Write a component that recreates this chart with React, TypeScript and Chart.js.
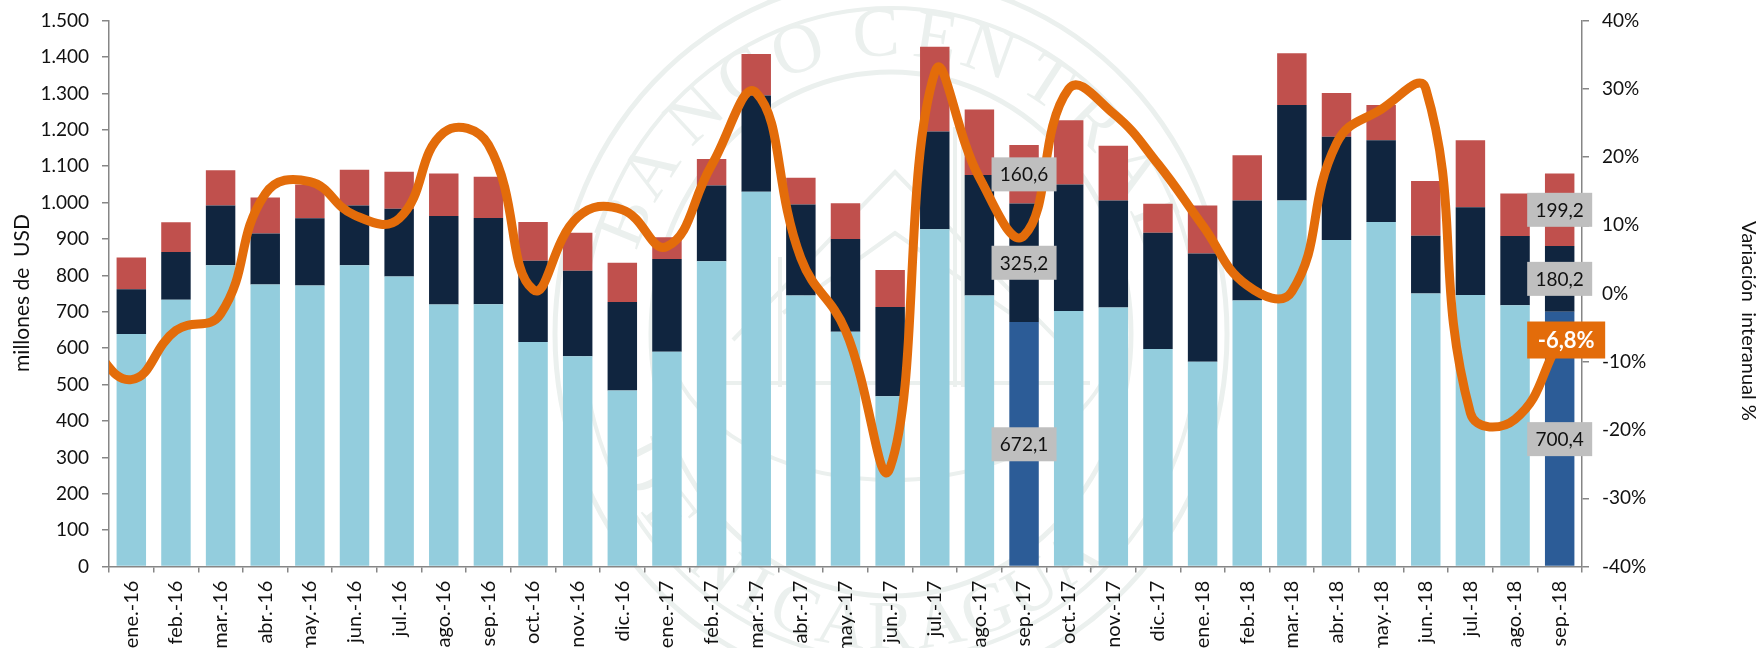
import React, { useEffect, useRef } from "react";
import { Chart, registerables } from "chart.js";

Chart.register(...registerables);

// "dic.-15" lies off the left edge of the axis: only the curve enters from there.
const monthBefore = "dic.-15";
const months = ["ene.-16","feb.-16","mar.-16","abr.-16","may.-16","jun.-16","jul.-16","ago.-16","sep.-16","oct.-16","nov.-16","dic.-16","ene.-17","feb.-17","mar.-17","abr.-17","may.-17","jun.-17","jul.-17","ago.-17","sep.-17","oct.-17","nov.-17","dic.-17","ene.-18","feb.-18","mar.-18","abr.-18","may.-18","jun.-18","jul.-18","ago.-18","sep.-18"];
const lightValues = [639,733,828,775,772,828,797,720,721,617,578,484,590,839,1030,745,645,468,927,745,672.1,702,712,598,563,731,1006,897,947,750,746,718,700.4];
const darkValues = [123,131,164,140,185,164,186,243,237,223,235,243,255,208,264,250,255,245,268,331,325.2,348,294,319,297,275,262,284,224,159,241,190,180.2];
const redValues = [87,82,97,99,93,98,102,117,113,107,104,108,60,73,114,73,98,102,233,180,160.6,176,150,80,132,124,142,120,97,150,184,117,199.2];
const variationBefore = -7;
const variation = [-12.6,-5.4,-3,14.6,16.4,11.5,11,23.6,21.8,0.6,11.2,12.3,6.9,18.8,29.4,5.2,-5.4,-25.5,32.4,17,8.5,30,26.4,19,10,1.2,0.3,22,27,30,-17.5,-18.4,-6.8];
const highlighted = [20, 32];

const FONT = "Lato";
const INK = "#111111";
const AXIS = "#868686";
const LIGHT = "#93CDDD";
const DARK = "#10253F";
const RED = "#C0504D";
const BLUE = "#2C5C97";
const ORANGE = "#E36C0A";
const BOX = "#BFBFBF";
const SEAL = "#EBF0EE";

const fmtThousand = (v: number) => (v >= 1000 ? `${Math.floor(v / 1000)}.${String(v % 1000).padStart(3, "0")}` : String(v));
const fmtComma = (v: number) => v.toFixed(1).replace(".", ",");

const sealPlugin = {
  id: "seal",
  beforeDraw(chart: any) {
    const c = chart.ctx;
    const cx = 891, cy = 334;
    c.save();
    c.strokeStyle = SEAL;
    c.fillStyle = SEAL;
    const rings: number[][] = [[336, 356, 5], [308, 326, 4], [240, 262, 5]];
    rings.forEach(([rx, ry, w]) => {
      c.lineWidth = w;
      c.beginPath();
      c.ellipse(cx, cy, rx, ry, 0, 0, Math.PI * 2);
      c.stroke();
    });
    c.font = "70px 'Liberation Serif'";
    c.textAlign = "center";
    c.textBaseline = "middle";
    const put = (ch: string, deg: number, bottom: boolean) => {
      const t = (deg * Math.PI) / 180;
      const x = cx + 284 * Math.sin(t);
      const y = cy - 297 * Math.cos(t);
      c.save();
      c.translate(x, y);
      c.rotate(bottom ? t - Math.PI : t);
      c.fillText(ch, 0, 0);
      c.restore();
    };
    [["B",-68],["A",-57],["N",-43],["C",-31],["O",-19],["C",-3],["E",9],["N",20],["T",33],["R",45],["A",57],["L",68]].forEach(([s, d]) => put(s as string, d as number, false));
    [["D",243],["E",232],["N",218],["I",209],["C",200],["A",190],["R",180],["A",170],["G",160],["U",150],["A",140]].forEach(([s, d]) => put(s as string, d as number, true));
    c.lineWidth = 4;
    const seg = (p: number[][]) => {
      c.beginPath();
      p.forEach(([x, y], i) => (i ? c.lineTo(x, y) : c.moveTo(x, y)));
      c.stroke();
    };
    seg([[733, 340], [895, 172], [1058, 340]]);
    seg([[783, 313], [895, 233], [1010, 313]]);
    seg([[700, 383], [1090, 383]]);
    seg([[780, 257], [780, 387]]);
    seg([[790, 250], [790, 387]]);
    seg([[955, 127], [955, 387]]);
    seg([[963, 127], [963, 387]]);
    c.beginPath();
    c.ellipse(cx, 330, 225, 150, 0, 0.15, Math.PI - 0.15);
    c.stroke();
    c.restore();
  },
};

const labelPlugin = {
  id: "valueLabels",
  afterDraw(chart: any) {
    const c = chart.ctx;
    const xs = chart.scales.x;
    const ys = chart.scales.y;
    const y1 = chart.scales.y1;
    c.save();
    c.textAlign = "center";
    c.textBaseline = "middle";
    highlighted.forEach((i) => {
      const x = xs.getPixelForValue(i + 1);
      const segs = [
        [lightValues[i], lightValues[i] / 2],
        [darkValues[i], lightValues[i] + darkValues[i] / 2],
        [redValues[i], lightValues[i] + darkValues[i] + redValues[i] / 2],
      ];
      segs.forEach(([v, mid]) => {
        const y = ys.getPixelForValue(mid);
        c.fillStyle = BOX;
        c.fillRect(x - 32.5, y - 17, 65, 34);
        c.fillStyle = INK;
        c.font = `19px ${FONT}`;
        c.fillText(fmtComma(v), x, y + 1);
      });
    });
    const last = variation.length - 1;
    const lx = xs.getPixelForValue(last + 1);
    const ly = y1.getPixelForValue(variation[last]);
    c.fillStyle = ORANGE;
    c.fillRect(lx - 32.5, ly - 18.5, 78, 37);
    c.fillStyle = "#FFFFFF";
    c.font = `bold 22px ${FONT}`;
    c.fillText(`${fmtComma(variation[last])}%`, lx + 6.5, ly + 1);

    c.fillStyle = INK;
    c.font = `21px ${FONT}`;
    c.save();
    c.translate(22, 293);
    c.rotate(-Math.PI / 2);
    c.fillText("millones de  USD", 0, 0);
    c.restore();
    c.font = `20px ${FONT}`;
    c.save();
    c.translate(1748, 321);
    c.rotate(Math.PI / 2);
    c.fillText("Variación  interanual %", 0, 0);
    c.restore();
    c.restore();
  },
};

const flushY = (width: number) => (s: any) => {
  s.width = width;
  s.paddingTop = 0;
  s.paddingBottom = 0;
};

export default function App() {
  const ref = useRef<HTMLCanvasElement | null>(null);
  useEffect(() => {
    document.body.style.margin = "0";
    const chart = new Chart(ref.current as HTMLCanvasElement, {
      type: "bar",
      data: {
        labels: [monthBefore, ...months],
        datasets: [
          {
            type: "line",
            label: "Variación interanual",
            data: [variationBefore, ...variation],
            yAxisID: "y1",
            borderColor: ORANGE,
            borderWidth: 9,
            pointRadius: 0,
            tension: 0.45,
            fill: false,
            borderCapStyle: "round",
            order: 0,
          } as any,
          { label: "a", data: [null, ...lightValues], backgroundColor: [null, ...lightValues].map((_, i) => (highlighted.includes(i - 1) ? BLUE : LIGHT)), stack: "s", order: 1, barPercentage: 0.66, categoryPercentage: 1 },
          { label: "b", data: [null, ...darkValues], backgroundColor: DARK, stack: "s", order: 2, barPercentage: 0.66, categoryPercentage: 1 },
          { label: "c", data: [null, ...redValues], backgroundColor: RED, stack: "s", order: 3, barPercentage: 0.66, categoryPercentage: 1 },
        ],
      },
      options: {
        responsive: false,
        animation: false,
        events: [],
        layout: { padding: { top: 20.6, left: 0, right: 0, bottom: 0 } },
        plugins: { legend: { display: false }, tooltip: { enabled: false }, title: { display: false } },
        scales: {
          x: {
            stacked: true,
            offset: true,
            min: months[0],
            afterFit: (s: any) => { s.height = 81.4; },
            grid: { drawOnChartArea: false, drawTicks: true, tickLength: 6, color: AXIS, lineWidth: 1.5, offset: true },
            border: { color: AXIS, width: 1.5 },
            ticks: { autoSkip: false, minRotation: 90, maxRotation: 90, padding: 8, color: INK, font: { family: FONT, size: 20 } },
          },
          y: {
            stacked: true,
            min: 0,
            max: 1500,
            position: "left",
            afterFit: flushY(109),
            grid: { drawOnChartArea: false, tickLength: 7, color: AXIS, lineWidth: 1.5 },
            border: { color: AXIS, width: 1.5 },
            ticks: { stepSize: 100, padding: 13, color: INK, font: { family: FONT, size: 19 }, callback: (v: any) => fmtThousand(Number(v)) },
          },
          y1: {
            min: -40,
            max: 40,
            position: "right",
            afterFit: flushY(178),
            grid: { drawOnChartArea: false, tickLength: 7, color: AXIS, lineWidth: 1.5 },
            border: { color: AXIS, width: 1.5 },
            ticks: { stepSize: 10, padding: 13, color: INK, font: { family: FONT, size: 19 }, callback: (v: any) => `${v}%` },
          },
        },
      } as any,
      plugins: [sealPlugin, labelPlugin],
    });
    return () => chart.destroy();
  }, []);
  return <canvas ref={ref} width={1760} height={648} style={{ display: "block", width: 1760, height: 648 }} />;
}
